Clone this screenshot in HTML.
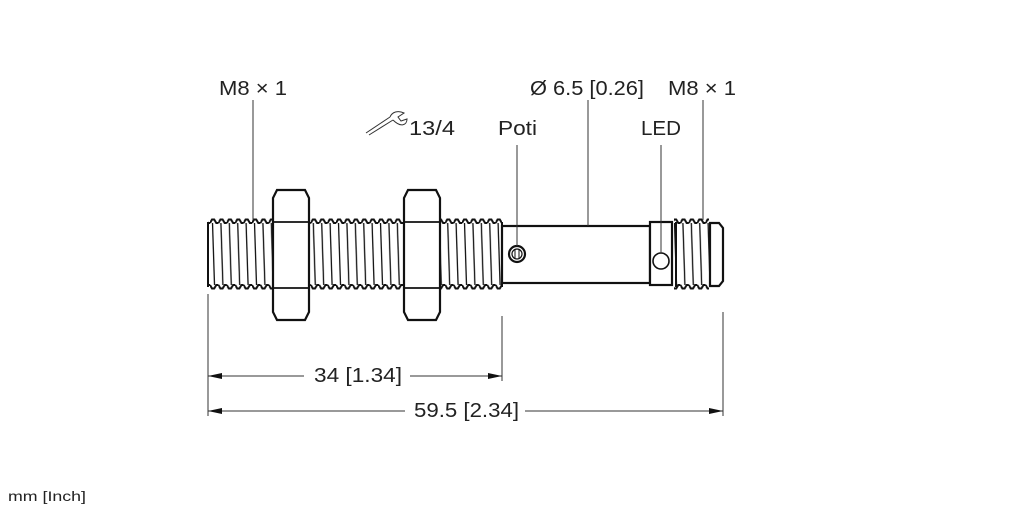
<!DOCTYPE html>
<html><head><style>body{margin:0;background:#fff}svg{display:block}text{font-family:"Liberation Sans",sans-serif;fill:#222}</style></head>
<body>
<svg width="1022" height="511" viewBox="0 0 1022 511" xmlns="http://www.w3.org/2000/svg">
<defs>
<pattern id="th" patternUnits="userSpaceOnUse" x="0" y="217" width="8.4" height="75">
<path d="M0,6 L2,2.5 L4.2,2.5 L6.3,6 L8.4,6" fill="none" stroke="#111" stroke-width="2"/>
<path d="M0,68 L2,71.5 L4.2,71.5 L6.3,68 L8.4,68" fill="none" stroke="#111" stroke-width="2"/>
<path d="M2.5,6 L4.5,68" stroke="#111" stroke-width="1.3"/>
</pattern>
</defs>
<g stroke="#111" fill="none">
<rect x="208" y="217" width="294" height="75" fill="url(#th)" stroke="none"/>
<line x1="208" y1="222" x2="208" y2="287" stroke-width="2"/>
<line x1="502" y1="222" x2="502" y2="287" stroke-width="2"/>
<g stroke-width="2.2" fill="#fff">
<path d="M277,190 H305 L309,198 V312 L305,320 H277 L273,312 V198Z"/>
<path d="M408,190 H436 L440,198 V312 L436,320 H408 L404,312 V198Z"/>
</g>
<line x1="274" y1="222" x2="308" y2="222" stroke-width="1.8"/>
<line x1="274" y1="288" x2="308" y2="288" stroke-width="1.8"/>
<line x1="405" y1="222" x2="439" y2="222" stroke-width="1.8"/>
<line x1="405" y1="288" x2="439" y2="288" stroke-width="1.8"/>
<rect x="502" y="226" width="148" height="57" stroke-width="2.2" fill="#fff"/>
<circle cx="517" cy="254" r="8" stroke-width="2.2"/>
<circle cx="517" cy="254" r="5" stroke-width="1.2"/>
<line x1="515" y1="249" x2="515" y2="259" stroke-width="1"/><line x1="519" y1="249" x2="519" y2="259" stroke-width="1"/>
<rect x="650" y="222" width="22" height="63" stroke-width="2.2" fill="#fff"/>
<circle cx="661" cy="261" r="8" stroke-width="1.6" fill="#fff"/>
<rect x="674" y="217" width="35" height="75" fill="url(#th)" stroke="none"/>
<line x1="676" y1="222" x2="676" y2="287" stroke-width="2"/>
<path d="M710,223 H719 L723,228 V281 L719,286 H710Z" stroke-width="2.2" fill="#fff"/>
<g stroke="#333" stroke-width="1">
<line x1="253" y1="100" x2="253" y2="220"/>
<line x1="517" y1="145" x2="517" y2="246"/>
<line x1="588" y1="100" x2="588" y2="226"/>
<line x1="661" y1="145" x2="661" y2="253"/>
<line x1="703" y1="100" x2="703" y2="220"/>
<line x1="208" y1="294" x2="208" y2="416"/>
<line x1="502" y1="316" x2="502" y2="381"/>
<line x1="723" y1="312" x2="723" y2="416"/>
<line x1="208" y1="376" x2="304" y2="376"/><line x1="410" y1="376" x2="502" y2="376"/>
<line x1="208" y1="411" x2="405" y2="411"/><line x1="525" y1="411" x2="723" y2="411"/>
</g>
<g fill="#111" stroke="none">
<path d="M208,376 l14,-3 v6z"/><path d="M502,376 l-14,-3 v6z"/>
<path d="M208,411 l14,-3 v6z"/><path d="M723,411 l-14,-3 v6z"/>
</g>
<path d="M366,133 L390,117 M369,135 L393,120 M390,117 C392,112 398,110 404,113 L398,117 L401,121 L407,119 C407,125 401,128 393,120" stroke="#333" stroke-width="1"/>
</g>
<g font-size="20">
<text x="219" y="95" textLength="68" lengthAdjust="spacingAndGlyphs">M8 × 1</text>
<text x="409" y="135" textLength="46" lengthAdjust="spacingAndGlyphs">13/4</text>
<text x="498" y="135" textLength="39" lengthAdjust="spacingAndGlyphs">Poti</text>
<text x="530" y="95" textLength="114" lengthAdjust="spacingAndGlyphs">Ø 6.5 [0.26]</text>
<text x="668" y="95" textLength="68" lengthAdjust="spacingAndGlyphs">M8 × 1</text>
<text x="641" y="135" textLength="40" lengthAdjust="spacingAndGlyphs">LED</text>
<text x="314" y="382" textLength="88" lengthAdjust="spacingAndGlyphs">34 [1.34]</text>
<text x="414" y="417" textLength="105" lengthAdjust="spacingAndGlyphs">59.5 [2.34]</text>
</g>
<text x="8" y="501" font-size="14" textLength="78" lengthAdjust="spacingAndGlyphs">mm [Inch]</text>
</svg>
</body></html>
